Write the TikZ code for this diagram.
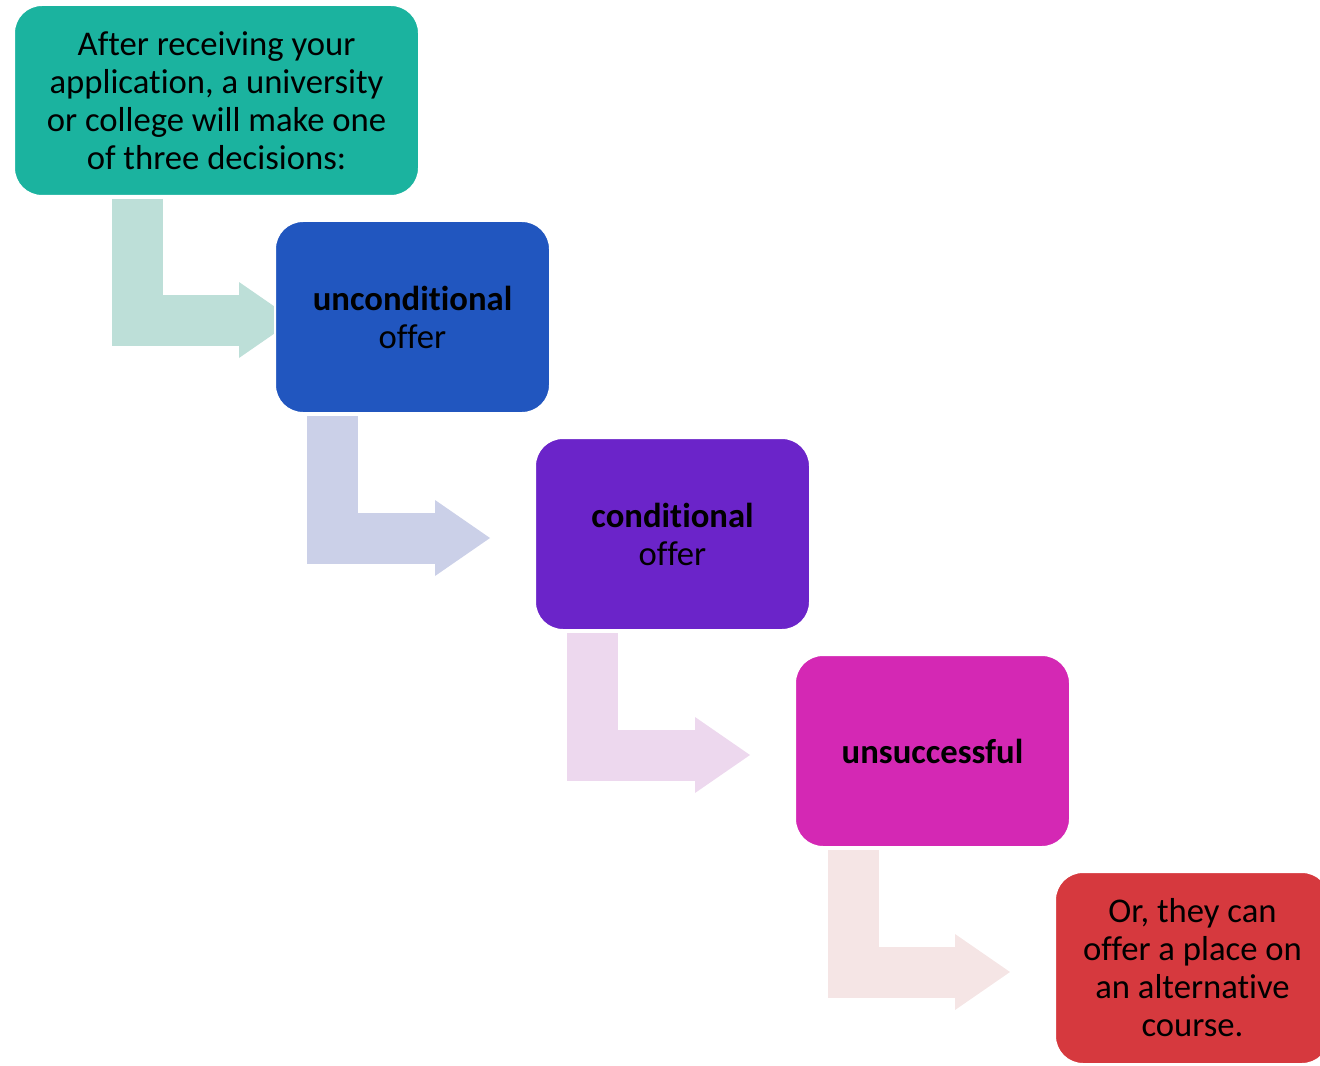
\documentclass[tikz,border=0pt]{standalone}
\usepackage{fontspec}
\setmainfont{Carlito}[Ligatures = NoCommon]
\usetikzlibrary{arrows.meta,calc,backgrounds}

\definecolor{tealbox}{HTML}{1BB39F}
\definecolor{bluebox}{HTML}{2156BF}
\definecolor{purplebox}{HTML}{6B24C9}
\definecolor{magentabox}{HTML}{D428B4}
\definecolor{redbox}{HTML}{D6393E}
\definecolor{tealarrow}{HTML}{BDDFD8}
\definecolor{bluearrow}{HTML}{CBD0E8}
\definecolor{purplearrow}{HTML}{EDD8EE}
\definecolor{magentaarrow}{HTML}{F5E5E5}

\tikzset{
  box/.style = {rounded corners = 21pt, draw = white, line width = 1.5pt,
    minimum width = 206.25pt, minimum height = 144pt, inner sep = 0pt,
    align = center, text = black, font = \fontsize{26}{28.5}\selectfont},
  bent/.style = {line width = 38.25pt, line join = miter,
    -{Triangle[length = 41.25pt, width = 57pt, line width = 0pt]}}
}

\begin{document}
\begin{tikzpicture}[x = 0.75pt, y = -0.75pt]
\useasboundingbox (0,0) rectangle (1320,1066);

\node[box, fill = tealbox, minimum width = 303.75pt, minimum height = 143.25pt] (start) at (216.5,100.5)
  {After receiving your\\application, a university\\or college will make one\\of three decisions:};
\node[box, fill = bluebox] (uncond) at (412.5,317) {\textbf{unconditional}\\offer};
\node[box, fill = purplebox] (cond) at (672.5,534) {\textbf{conditional}\\offer};
\node[box, fill = magentabox] (unsucc) at (932.5,751) {\textbf{unsuccessful}};
\node[box, fill = redbox] (altern) at (1192.5,968) {Or, they can\\offer a place on\\an alternative\\course.};

% bent arrows behind the boxes
\begin{scope}[on background layer]
\draw[bent, draw = tealarrow] ($(start.south west)+(124.5,2)$) |- ($(uncond.west)+(20,3)$);
\draw[bent, draw = bluearrow] ($(uncond.south west)+(58.5,2)$) |- ($(cond.west)+(-44,4)$);
\draw[bent, draw = purplearrow] ($(cond.south west)+(58.5,2)$) |- ($(unsucc.west)+(-44,4)$);
\draw[bent, draw = magentaarrow] ($(unsucc.south west)+(59,2)$) |- ($(altern.west)+(-44,4)$);
\end{scope}
\end{tikzpicture}
\end{document}
